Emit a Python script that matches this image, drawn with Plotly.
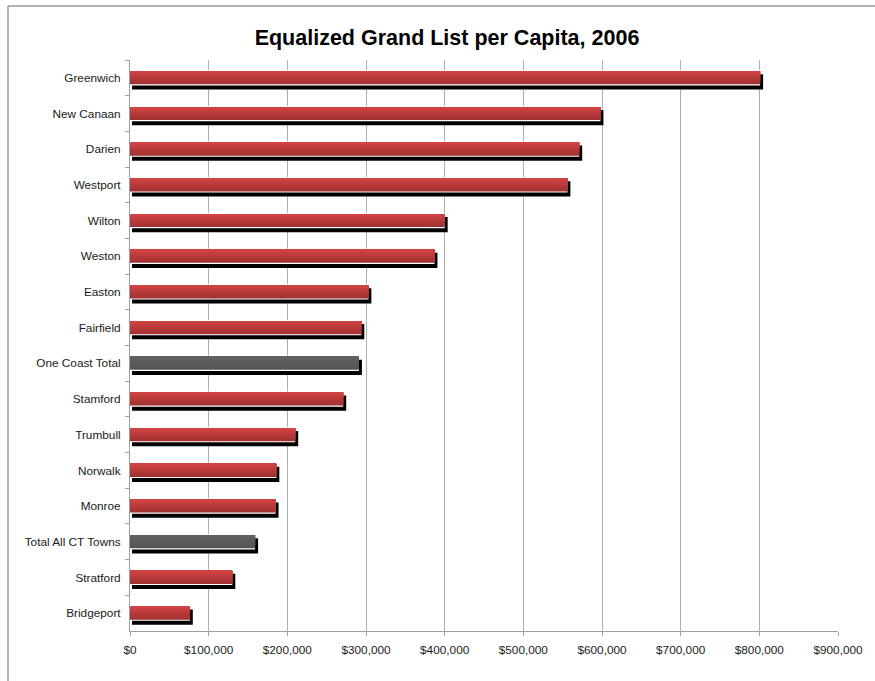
import plotly.graph_objects as go

towns = ["Greenwich", "New Canaan", "Darien", "Westport", "Wilton", "Weston",
         "Easton", "Fairfield", "One Coast Total", "Stamford", "Trumbull",
         "Norwalk", "Monroe", "Total All CT Towns", "Stratford", "Bridgeport"]
values = [801000, 598000, 571000, 556000, 400000, 387000,
          303000, 294000, 291000, 271000, 210000,
          186000, 185000, 159000, 130000, 76000]
totals = ["One Coast Total", "Total All CT Towns"]
x_tickvals = [0, 100000, 200000, 300000, 400000, 500000, 600000, 700000, 800000, 900000]

W, H = 875, 681
L, R, T, B = 130, 37, 60, 50
plot_w = W - L - R
plot_h = H - T - B
xmax = 900000
px_x = xmax / plot_w           # data units per pixel (x)
px_y = len(towns) / plot_h     # category units per pixel (y)

outer_w = 15.2 * px_y
inner_w = 13.0 * px_y
sh_dy = 4.0 * px_y

def lerp(c1, c2, t):
    return "#%02x%02x%02x" % tuple(round(a + (b - a) * t) for a, b in zip(c1, c2))

red_dark, red_light = (0xa3, 0x31, 0x31), (0xd0, 0x43, 0x43)
gray_dark, gray_light = (0x56, 0x56, 0x56), (0x60, 0x60, 0x60)

fig = go.Figure()

# shadow
fig.add_trace(go.Bar(
    y=towns, x=[v + 1.0 * px_x for v in values], base=[2.0 * px_x] * len(values),
    orientation="h", marker=dict(color="#000000", line=dict(width=0)),
    width=outer_w, offset=-outer_w / 2 + sh_dy, hoverinfo="skip", showlegend=False))
# white border
fig.add_trace(go.Bar(
    y=towns, x=values, orientation="h",
    marker=dict(color="#ffffff", line=dict(width=0)),
    width=outer_w, offset=-outer_w / 2, hoverinfo="skip", showlegend=False))
# gradient bands
n = 8
for j in range(n):
    t = j / (n - 1)
    hgt = inner_w * (n - j) / n
    cols = [lerp(gray_dark, gray_light, t) if c in totals else lerp(red_dark, red_light, t)
            for c in towns]
    fig.add_trace(go.Bar(
        y=towns, x=values, orientation="h",
        marker=dict(color=cols, line=dict(width=0)),
        width=hgt, offset=-inner_w / 2, hoverinfo="skip", showlegend=False))

fx = (8 - L) / plot_w
fy = (H - B - 6) / plot_h
fig.add_shape(type="line", xref="paper", yref="paper", x0=fx, x1=fx, y0=-0.3, y1=fy,
              line=dict(color="#9a9a9a", width=1.5), layer="above")
fig.add_shape(type="line", xref="paper", yref="paper", x0=fx, x1=1.3, y0=fy, y1=fy,
              line=dict(color="#9a9a9a", width=1.5), layer="above")

fig.update_layout(
    width=W, height=H,
    margin=dict(l=L, r=R, t=T, b=B),
    paper_bgcolor="white", plot_bgcolor="white",
    barmode="overlay",
    title=dict(text="<b>Equalized Grand List per Capita, 2006</b>",
               x=447 / W, xref="container", xanchor="center",
               y=1 - 37 / H, yref="container", yanchor="middle",
               font=dict(family="Liberation Sans, Arial, sans-serif", size=21.5, color="#000000")),
    font=dict(family="Liberation Sans, Arial, sans-serif", size=11.8, color="#1a1a1a"),
    xaxis=dict(range=[0, xmax], tickvals=x_tickvals, tickformat="$,.0f",
               showgrid=True, gridcolor="#b0b0b0", gridwidth=1, zeroline=False,
               showline=True, linecolor="#a0a0a0", linewidth=1,
               ticks="outside", ticklen=4, tickcolor="#a0a0a0",
               ticklabelstandoff=4, fixedrange=True),
    yaxis=dict(type="category", categoryorder="array", categoryarray=towns,
               range=[len(towns) - 0.5, -0.5],
               showgrid=False, zeroline=False,
               showline=True, linecolor="#a0a0a0", linewidth=1,
               ticks="outside", ticklen=4, tickcolor="#a0a0a0", tickson="boundaries",
               ticklabelstandoff=6, fixedrange=True),
)

fig.write_html("out.html", config={"displayModeBar": False},
               post_script="document.body.style.margin='0';document.body.style.overflow='hidden';")
